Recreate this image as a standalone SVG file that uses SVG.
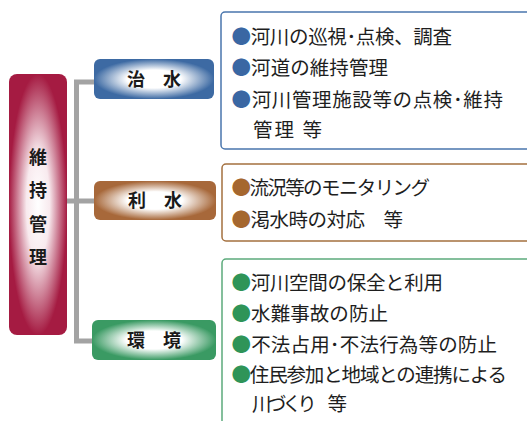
<svg xmlns="http://www.w3.org/2000/svg" width="527" height="421" viewBox="0 0 527 421">
<style>
.t{font-family:"Noto Sans CJK JP","Noto Sans CJK SC",sans-serif;font-size:19.5px;fill:#1e1e1e}
.h{font-family:"Noto Sans CJK JP","Noto Sans CJK SC",sans-serif;font-size:18px;font-weight:bold;fill:#1a1a1a;text-anchor:middle}
.conn{fill:none;stroke:#a3a3a3;stroke-width:5}
</style>
<defs>
<radialGradient id="gR" cx="0.5" cy="0.5" r="0.5"><stop offset="0" stop-color="#ffffff"/><stop offset="0.4" stop-color="#f8eaee"/><stop offset="1" stop-color="#a51b42"/></radialGradient>
<radialGradient id="gB" cx="0.5" cy="0.5" r="0.5"><stop offset="0" stop-color="#ffffff"/><stop offset="0.45" stop-color="#ffffff"/><stop offset="1" stop-color="#3d6aa3"/></radialGradient>
<radialGradient id="gO" cx="0.5" cy="0.5" r="0.5"><stop offset="0" stop-color="#ffffff"/><stop offset="0.45" stop-color="#ffffff"/><stop offset="1" stop-color="#a7683a"/></radialGradient>
<radialGradient id="gG" cx="0.5" cy="0.5" r="0.5"><stop offset="0" stop-color="#ffffff"/><stop offset="0.45" stop-color="#ffffff"/><stop offset="1" stop-color="#3a9a63"/></radialGradient>
</defs>
<rect width="527" height="421" fill="#ffffff"/>
<g id="connectors">
<path class="conn" d="M94,82 H76.5 V341 H92"/>
<path class="conn" d="M67,201 H94"/>
</g>
<g id="root">
<rect x="9" y="74" width="58" height="261" rx="8" fill="url(#gR)"/>
<text class="h" x="38" y="164">維</text>
<text class="h" x="38" y="197">持</text>
<text class="h" x="38" y="231">管</text>
<text class="h" x="38" y="264">理</text>
</g>
<g id="chisui">
<rect x="94" y="59" width="120" height="40" rx="6" fill="url(#gB)"/>
<text class="h" x="154" y="86">治　水</text>
</g>
<g id="risui">
<rect x="94" y="181" width="122" height="39" rx="6" fill="url(#gO)"/>
<text class="h" x="155" y="207">利　水</text>
</g>
<g id="kankyo">
<rect x="92" y="320" width="124" height="40" rx="6" fill="url(#gG)"/>
<text class="h" x="154" y="347">環　境</text>
</g>
<g id="chisui-items">
<rect x="221" y="12" width="320" height="137" rx="4" fill="#ffffff" stroke="#4a76ad" stroke-width="1.5"/>
<text class="t" x="231.5" y="44" textLength="220.5"><tspan fill="#3a67a3">●</tspan>河川の巡視･点検、調査</text>
<text class="t" x="231.5" y="75" textLength="156.5"><tspan fill="#3a67a3">●</tspan>河道の維持管理</text>
<text class="t" x="231.5" y="107" textLength="271.5"><tspan fill="#3a67a3">●</tspan>河川管理施設等の点検･維持</text>
<text class="t" x="253" y="137" textLength="69">管理 等</text>
</g>
<g id="risui-items">
<rect x="222" y="164" width="320" height="77" rx="4" fill="#ffffff" stroke="#a4703f" stroke-width="1.5"/>
<text class="t" x="231.5" y="195" textLength="198.5"><tspan fill="#a5672f">●</tspan>流況等のモニタリング</text>
<text class="t" x="231.5" y="227" textLength="171.5"><tspan fill="#a5672f">●</tspan>渇水時の対応　等</text>
</g>
<g id="kankyo-items">
<rect x="222" y="259" width="320" height="180" rx="4" fill="#ffffff" stroke="#5cab7c" stroke-width="1.5"/>
<text class="t" x="231.5" y="290" textLength="211.5"><tspan fill="#2f9458">●</tspan>河川空間の保全と利用</text>
<text class="t" x="231.5" y="321" textLength="156.5"><tspan fill="#2f9458">●</tspan>水難事故の防止</text>
<text class="t" x="231.5" y="352" textLength="265.5"><tspan fill="#2f9458">●</tspan>不法占用･不法行為等の防止</text>
<text class="t" x="231.5" y="382" textLength="275.5"><tspan fill="#2f9458">●</tspan>住民参加と地域との連携による</text>
<text class="t" x="252" y="411" textLength="95">川づくり　等</text>
</g>
</svg>
